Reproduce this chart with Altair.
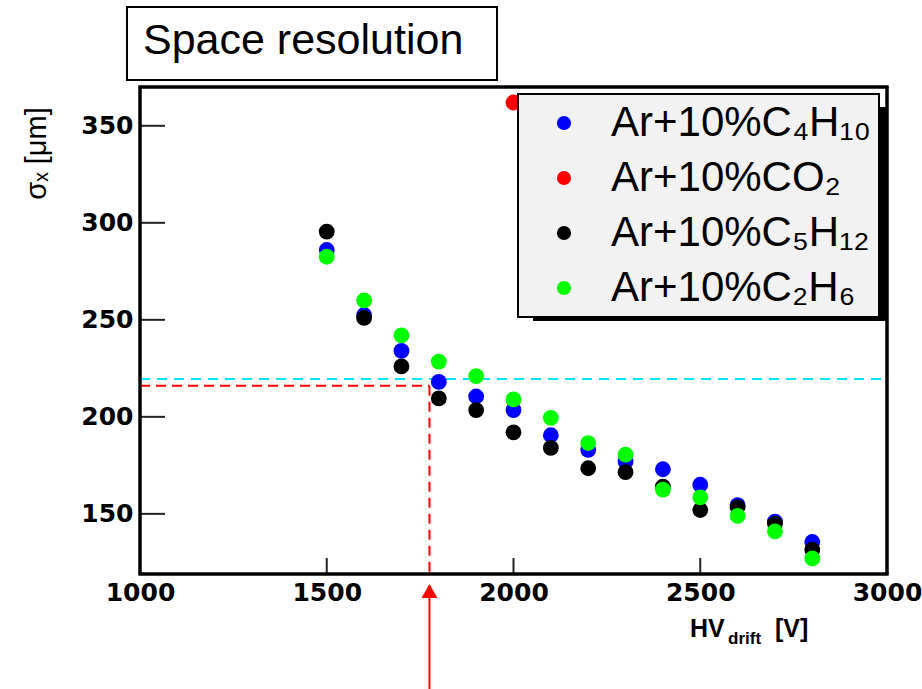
import altair as alt
import pandas as pd

# ---- data ----
hv = [1500, 1600, 1700, 1800, 1900, 2000, 2100, 2200, 2300, 2400, 2500, 2600, 2700, 2800]
c4h10 = [286, 252.5, 234, 218, 210.5, 203.5, 190.5, 183, 177, 173, 165, 154.5, 146, 135.5]
c5h12 = [295.5, 251, 226, 209.5, 203.5, 192, 184, 173.5, 171.5, 164, 152, 153.5, 145, 131.5]
c2h6 = [282.5, 260, 242, 228.5, 221, 209, 199.5, 186.5, 180.5, 162.5, 158.5, 149, 141, 127]
co2_hv = [2000]
co2 = [362]

names = ["Ar+10%C\u2084H\u2081\u2080", "Ar+10%CO\u2082", "Ar+10%C\u2085H\u2081\u2082", "Ar+10%C\u2082H\u2086"]
colors = ["#0000ff", "#ff0000", "#000000", "#00ff00"]

x_ticks = [1000, 1500, 2000, 2500, 3000]
y_ticks = [150, 200, 250, 300, 350]
x_domain = [1000, 3000]
y_domain = [119, 370]

cyan_level = 219.5
red_level = 216
red_hv = 1775

W, H = 747, 487

rows = []
for name, xs_, ys_ in [(names[0], hv, c4h10), (names[1], co2_hv, co2),
                       (names[2], hv, c5h12), (names[3], hv, c2h6)]:
    for a, b in zip(xs_, ys_):
        rows.append({"hv": a, "sigma": b, "gas": name})
df = pd.DataFrame(rows)

xs = alt.Scale(domain=x_domain, nice=False, zero=False)
ys = alt.Scale(domain=y_domain, nice=False, zero=False)

x_axis = alt.Axis(values=x_ticks, format="d", title=None, grid=False, ticks=False,
                  domain=False, labelPadding=6, labelFont="DejaVu Sans", labelFontWeight="bold",
                  labelFontSize=25, labelColor="black", labelFlush=False)
y_axis = alt.Axis(values=y_ticks, format="d", title="\u03c3\u2093 [\u03bcm]", grid=False, ticks=False,
                  domain=False, labelPadding=7, labelFont="DejaVu Sans", labelFontWeight="bold",
                  labelFontSize=25, labelColor="black", labelFlush=False,
                  titleFont="Liberation Sans", titleFontSize=29, titleFontWeight="normal",
                  titleColor="black", titleAngle=270, titleX=-104, titleY=66,
                  titleAlign="center", titleBaseline="middle")


def X(field):
    return alt.X(field, scale=xs, axis=x_axis)


def Y(field):
    return alt.Y(field, scale=ys, axis=y_axis)


points = alt.Chart(df).mark_circle(size=250, opacity=1).encode(
    x=X("hv:Q"),
    y=Y("sigma:Q"),
    color=alt.Color("gas:N", sort=names, scale=alt.Scale(domain=names, range=colors),
                    legend=alt.Legend(title=None, orient="none", legendX=378, legendY=7,
                                      fillColor="#f2f2f2", strokeColor="black",
                                      padding=8, symbolOffset=17, labelOffset=26,
                                      symbolType="circle", symbolSize=200, symbolStrokeWidth=0,
                                      labelFont="Liberation Sans", labelFontSize=42,
                                      labelColor="black", rowPadding=13, labelLimit=500)),
)

# inward ticks
ytick_df = pd.DataFrame({"sigma": y_ticks})
xtick_df = pd.DataFrame({"hv": x_ticks[1:-1]})
yticks = alt.Chart(ytick_df).mark_rule(color="#222", strokeWidth=2).encode(
    y=Y("sigma:Q"), x=alt.value(0), x2=alt.value(25))
xticks = alt.Chart(xtick_df).mark_rule(color="#222", strokeWidth=2).encode(
    x=X("hv:Q"), y=alt.value(H), y2=alt.value(H - 16))

# frame drawn from the tick arrays' end values (plot edges)
edge_x = pd.DataFrame({"hv": [x_domain[0], x_domain[1]]})
edge_y = pd.DataFrame({"sigma": [y_domain[0], y_domain[1]]})
frame_v = alt.Chart(edge_x).mark_rule(color="black", strokeWidth=3).encode(
    x=X("hv:Q"), y=alt.value(0), y2=alt.value(H))
frame_h = alt.Chart(edge_y).mark_rule(color="black", strokeWidth=3).encode(
    y=Y("sigma:Q"), x=alt.value(-1.5), x2=alt.value(W + 1.5))

# guide lines
cyan_df = pd.DataFrame({"hv": [x_domain[0]], "hv2": [x_domain[1]], "sigma": [cyan_level]})
cyan = alt.Chart(cyan_df).mark_rule(color="#00e5ff", strokeWidth=2, strokeDash=[10, 7]).encode(
    x=X("hv:Q"), x2="hv2:Q", y=Y("sigma:Q"))
redh_df = pd.DataFrame({"hv": [x_domain[0]], "hv2": [red_hv], "sigma": [red_level]})
redh = alt.Chart(redh_df).mark_rule(color="#ff0000", strokeWidth=2, strokeDash=[10, 6]).encode(
    x=X("hv:Q"), x2="hv2:Q", y=Y("sigma:Q"))
redv_df = pd.DataFrame({"hv": [red_hv], "sigma": [red_level], "sigma2": [y_domain[0]]})
redv = alt.Chart(redv_df).mark_rule(color="#ff0000", strokeWidth=2, strokeDash=[10, 6]).encode(
    x=X("hv:Q"), y=Y("sigma:Q"), y2="sigma2:Q")

arrow_df = pd.DataFrame({"hv": [red_hv]})
arrow_line = alt.Chart(arrow_df).mark_rule(color="#ff0000", strokeWidth=2).encode(
    x=X("hv:Q"), y=alt.value(602), y2=alt.value(508))
arrow_head = alt.Chart(arrow_df).mark_point(shape="triangle-up", size=256, filled=True,
                                            color="#ff0000", opacity=1).encode(
    x=X("hv:Q"), y=alt.value(504))

one = pd.DataFrame({"k": [0]})
shadow = alt.Chart(one).mark_rect(color="black").encode(
    x=alt.value(393), x2=alt.value(747), y=alt.value(20), y2=alt.value(234))

title_box = alt.Chart(one).mark_rect(fill="white", stroke="black", strokeWidth=2).encode(
    x=alt.value(-13), x2=alt.value(357), y=alt.value(-80), y2=alt.value(-7))
title_txt = alt.Chart(one).mark_text(text="Space resolution", align="left", baseline="alphabetic",
                                     font="Liberation Sans", fontSize=43, color="black").encode(
    x=alt.value(3), y=alt.value(-33))

xt1 = alt.Chart(one).mark_text(text="HV", align="left", baseline="alphabetic",
                               font="Liberation Sans", fontSize=25, fontWeight="bold",
                               color="black").encode(x=alt.value(550), y=alt.value(550))
xt2 = alt.Chart(one).mark_text(text="drift", align="left", baseline="alphabetic",
                               font="Liberation Sans", fontSize=17, fontWeight="bold",
                               color="black").encode(x=alt.value(588), y=alt.value(557))
xt3 = alt.Chart(one).mark_text(text="[V]", align="left", baseline="alphabetic",
                               font="Liberation Sans", fontSize=25, fontWeight="bold",
                               color="black").encode(x=alt.value(635), y=alt.value(550))

chart = alt.layer(
    cyan, redh, redv, points, yticks, xticks, frame_v, frame_h,
    arrow_line, arrow_head, shadow, title_box, title_txt, xt1, xt2, xt3
).properties(
    width=W, height=H,
    autosize=alt.AutoSizeParams(type="none"),
    padding={"left": 140, "top": 87, "right": 35, "bottom": 115},
).configure_view(
    stroke="black", strokeWidth=3
).configure_legend(
    strokeWidth=2
)

chart.save("out.html", embed_options={"renderer": "svg", "actions": False})
